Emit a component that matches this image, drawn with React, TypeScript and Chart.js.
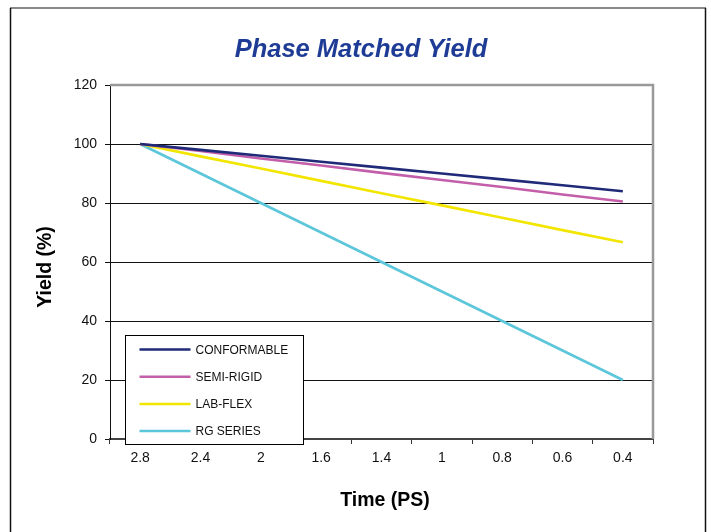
import React, { useEffect, useRef } from "react";
import { Chart, registerables } from "chart.js";

Chart.register(...registerables);

const categories = ["2.8", "2.4", "2", "1.6", "1.4", "1", "0.8", "0.6", "0.4"];
const conformable = [100, 98, 96, 94, 92, 90, 88, 86, 84];
const semiRigid = [100, 97.6, 95.1, 92.7, 90.2, 87.8, 85.4, 82.9, 80.5];
const labFlex = [100, 95.8, 91.7, 87.5, 83.3, 79.2, 75, 70.8, 66.7];
const rgSeries = [100, 90, 80, 70, 60, 50, 40, 30, 20];
const seriesNames = ["CONFORMABLE", "SEMI-RIGID", "LAB-FLEX", "RG SERIES"];
const seriesColors = ["#1F2A78", "#C35FAA", "#F2E600", "#5CC6DA"];
const yTicks = [0, 20, 40, 60, 80, 100, 120];

const FONT = "'Liberation Sans', Arial, Helvetica, sans-serif";

const decorPlugin = {
  id: "decor",
  afterDraw(chart: any) {
    const ctx = chart.ctx;
    const a = chart.chartArea;
    ctx.save();
    // outer frame
    ctx.strokeStyle = "#888";
    ctx.lineWidth = 2;
    ctx.beginPath();
    ctx.moveTo(10, 8);
    ctx.lineTo(706, 8);
    ctx.stroke();
    ctx.strokeStyle = "#111";
    ctx.lineWidth = 1.5;
    ctx.beginPath();
    ctx.moveTo(10.5, 8);
    ctx.lineTo(10.5, 540);
    ctx.moveTo(705.5, 8);
    ctx.lineTo(705.5, 540);
    ctx.stroke();

    // plot area top/right border
    ctx.strokeStyle = "#999";
    ctx.lineWidth = 2.5;
    ctx.beginPath();
    ctx.moveTo(a.left, a.top);
    ctx.lineTo(a.right, a.top);
    ctx.lineTo(a.right, a.bottom);
    ctx.stroke();

    // title
    ctx.fillStyle = "#1E3C96";
    ctx.font = `italic bold 25.5px ${FONT}`;
    ctx.textAlign = "center";
    ctx.textBaseline = "middle";
    ctx.fillText("Phase Matched Yield", 361, 50);

    // axis titles
    ctx.fillStyle = "#000";
    ctx.font = `bold 19.5px ${FONT}`;
    ctx.fillText("Time (PS)", 385, 501);
    ctx.save();
    ctx.translate(46, 267);
    ctx.rotate(-Math.PI / 2);
    ctx.fillText("Yield (%)", 0, 0);
    ctx.restore();

    // legend
    const bx = a.left + 15.5;
    const by = a.top + 250.5;
    const bw = 178;
    const bh = 109;
    ctx.fillStyle = "#fff";
    ctx.fillRect(bx, by, bw, bh);
    ctx.strokeStyle = "#000";
    ctx.lineWidth = 1;
    ctx.strokeRect(bx, by, bw, bh);
    ctx.font = `12px ${FONT}`;
    ctx.textAlign = "left";
    seriesNames.forEach((name, i) => {
      const yy = by + 14 + i * 27.2;
      ctx.strokeStyle = seriesColors[i];
      ctx.lineWidth = 2.5;
      ctx.beginPath();
      ctx.moveTo(bx + 14, yy);
      ctx.lineTo(bx + 65, yy);
      ctx.stroke();
      ctx.fillStyle = "#111";
      ctx.fillText(name, bx + 70, yy + 1);
    });
    ctx.restore();
  },
};

export default function App() {
  const ref = useRef<HTMLCanvasElement | null>(null);
  useEffect(() => {
    if (!ref.current) return;
    const data = [conformable, semiRigid, labFlex, rgSeries];
    const chart = new Chart(ref.current, {
      type: "line",
      data: {
        labels: categories,
        datasets: data.map((d, i) => ({
          label: seriesNames[i],
          data: d,
          borderColor: seriesColors[i],
          backgroundColor: seriesColors[i],
          borderWidth: 2.6,
          pointRadius: 0,
          tension: 0,
          fill: false,
        })),
      },
      options: {
        animation: false,
        responsive: false,
        devicePixelRatio: 1,
        layout: { padding: { top: 85, right: 58, left: 0, bottom: 0 } },
        plugins: {
          legend: { display: false },
          title: { display: false },
          tooltip: { enabled: false },
        },
        scales: {
          x: {
            type: "category",
            offset: true,
            grid: {
              offset: true,
              drawOnChartArea: false,
              drawTicks: true,
              tickLength: 5,
              color: "#333",
            },
            border: { color: "#444", width: 2 },
            ticks: {
              color: "#111",
              font: { family: FONT, size: 14 },
              padding: 6,
              maxRotation: 0,
            },
            afterFit: (s: any) => {
              s.height = 93;
            },
          },
          y: {
            min: 0,
            max: 120,
            afterBuildTicks: (s: any) => {
              s.ticks = yTicks.map((v) => ({ value: v }));
            },
            grid: {
              color: (c: any) =>
                c.tick && c.tick.value === 120 ? "rgba(0,0,0,0)" : "#111",
              tickColor: "#111",
              tickLength: 5,
            },
            border: { color: "#111", width: 1 },
            ticks: {
              color: "#111",
              font: { family: FONT, size: 14 },
              padding: 8,
            },
            afterFit: (s: any) => {
              s.width = 110;
            },
          },
        },
      },
      plugins: [decorPlugin],
    });
    return () => chart.destroy();
  }, []);
  return (
    <div style={{ position: "fixed", left: 0, top: 0, width: 711, height: 532, background: "#fff" }}>
      <canvas ref={ref} width={711} height={532} style={{ display: "block" }} />
    </div>
  );
}
